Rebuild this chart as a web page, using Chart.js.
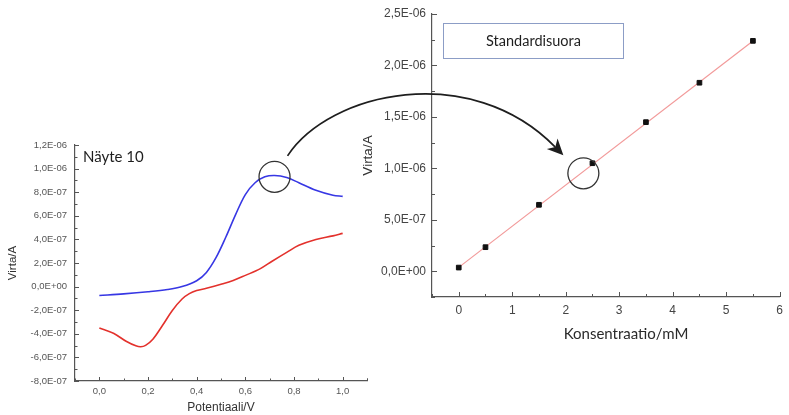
<!DOCTYPE html>
<html>
<head>
<meta charset="utf-8">
<script src="https://cdn.jsdelivr.net/npm/chart.js@4/dist/chart.umd.min.js"></script>
<style>
  html, body { margin: 0; padding: 0; background: #fff; }
  body { width: 789px; height: 415px; position: relative; overflow: hidden; }
  canvas { position: absolute; top: 0; }
  #cvA { left: 0; }
  #cvB { left: 340px; }
  #overlay { left: 0; pointer-events: none; }
  .txt { position: absolute; white-space: nowrap; color: #1e1e1e; font-family: Lato, "Open Sans", sans-serif; }
  #sample { left: 83px; top: 147px; font-size: 15px; line-height: 18px; }
  #legendBox { left: 443px; top: 23px; width: 179px; height: 34px; border: 1.5px solid #8c9dc6;
               font-size: 14.5px; line-height: 34px; text-align: center; }
  #concTitle { left: 556px; top: 324px; width: 140px; text-align: center; font-size: 15px; line-height: 18px; color: #2a2a2a; }
</style>
</head>
<body>
<canvas id="cvA" width="380" height="415"></canvas>
<canvas id="cvB" width="449" height="415"></canvas>
<canvas id="overlay" width="789" height="415"></canvas>
<div class="txt" id="sample">Näyte 10</div>
<div class="txt" id="legendBox">Standardisuora</div>
<div class="txt" id="concTitle">Konsentraatio/mM</div>

<script>
// ---- Voltammogram (Näyte 10): potential / V vs current / A ----
const blueX = [0.00, 0.10, 0.20, 0.28, 0.34, 0.40, 0.44, 0.48, 0.52, 0.56, 0.60, 0.64, 0.68, 0.72, 0.77, 0.82, 0.89, 0.96, 1.00];
const blueY = [-7.6e-8, -6.2e-8, -4.4e-8, -2.5e-8, 0.0, 5.0e-8, 1.2e-7, 2.47e-7, 4.2e-7, 6.1e-7, 7.8e-7, 8.8e-7, 9.3e-7, 9.42e-7, 9.25e-7, 8.8e-7, 8.16e-7, 7.74e-7, 7.65e-7];
const redX = [0.00, 0.06, 0.11, 0.15, 0.17, 0.19, 0.22, 0.26, 0.30, 0.34, 0.37, 0.40, 0.44, 0.50, 0.55, 0.60, 0.66, 0.71, 0.77, 0.82, 0.89, 0.96, 1.00];
const redY = [-3.5e-7, -3.98e-7, -4.63e-7, -5.02e-7, -5.1e-7, -4.98e-7, -4.46e-7, -3.28e-7, -2.02e-7, -1.05e-7, -6.0e-8, -3.4e-8, -1.4e-8, 2.0e-8, 5.2e-8, 9.5e-8, 1.5e-7, 2.15e-7, 2.9e-7, 3.5e-7, 4.0e-7, 4.3e-7, 4.51e-7];

const potTicks = [0, 0.2, 0.4, 0.6, 0.8, 1.0];
const potTickLabels = ['0,0', '0,2', '0,4', '0,6', '0,8', '1,0'];
const cvTicks = [-8e-7, -6e-7, -4e-7, -2e-7, 0, 2e-7, 4e-7, 6e-7, 8e-7, 1e-6, 1.2e-6];
const cvTickLabels = ['-8,0E-07', '-6,0E-07', '-4,0E-07', '-2,0E-07', '0,0E+00', '2,0E-07', '4,0E-07', '6,0E-07', '8,0E-07', '1,0E-06', '1,2E-06'];
const peakMark = { x: 0.72, y: 9.3e-7 };

// ---- Standard curve: concentration / mM vs current / A ----
const concentrations = [0, 0.5, 1.5, 2.5, 3.5, 4.5, 5.5];
const currents = [3.6e-8, 2.34e-7, 6.46e-7, 1.05e-6, 1.449e-6, 1.832e-6, 2.239e-6];
const fitX = [0, 5.5];
const fitY = [3.8e-8, 2.238e-6];

const concTicks = [0, 1, 2, 3, 4, 5, 6];
const concTickLabels = ['0', '1', '2', '3', '4', '5', '6'];
const stdTicks = [0, 5e-7, 1e-6, 1.5e-6, 2e-6, 2.5e-6];
const stdTickLabels = ['0,0E+00', '5,0E-07', '1,0E-06', '1,5E-06', '2,0E-06', '2,5E-06'];
const sampleMark = { x: 2.33, y: 9.52e-7 };

const pts = (xs, ys) => xs.map((x, i) => ({ x, y: ys[i] }));
const stepped = (from, to, step) => { const a = []; for (let i = 0; from + i * step <= to + 1e-12; i++) a.push(+(from + i * step).toPrecision(10)); return a; };

// Small tick marks pointing into the plot area, major and minor
const inwardTicks = {
  id: 'inwardTicks',
  afterDraw(chart, args, opts) {
    const ctx = chart.ctx;
    ctx.save();
    ctx.strokeStyle = opts.color;
    ctx.lineWidth = 1;
    for (const ax of opts.axes) {
      const s = chart.scales[ax.id];
      const sets = [[ax.major, ax.majorLen], [ax.minor, ax.minorLen]];
      for (const [vals, len] of sets) {
        for (const v of vals) {
          const p = Math.round(s.getPixelForValue(v)) + 0.5;
          ctx.beginPath();
          if (s.isHorizontal()) { ctx.moveTo(p, s.top); ctx.lineTo(p, s.top - len); }
          else { ctx.moveTo(s.right, p); ctx.lineTo(s.right + len, p); }
          ctx.stroke();
        }
      }
    }
    ctx.restore();
  }
};

// Highlight circle around a data location
const ringMark = {
  id: 'ringMark',
  afterDatasetsDraw(chart, args, opts) {
    const ctx = chart.ctx;
    const cx = chart.scales.x.getPixelForValue(opts.x);
    const cy = chart.scales.y.getPixelForValue(opts.y);
    ctx.save();
    ctx.strokeStyle = opts.color;
    ctx.lineWidth = 1.3;
    ctx.beginPath();
    ctx.arc(cx, cy, opts.r, 0, Math.PI * 2);
    ctx.stroke();
    ctx.restore();
  }
};

const tickFont = { family: '"Liberation Sans", Arial, sans-serif' };

function fixedTicks(values) {
  return (scale) => { scale.ticks = values.map(v => ({ value: v })); };
}

// Left chart: cyclic voltammogram
const chartA = new Chart(document.getElementById('cvA'), {
  type: 'scatter',
  data: {
    datasets: [
      { data: pts(blueX, blueY), showLine: true, borderColor: '#3737e4', borderWidth: 1.6, pointRadius: 0, tension: 0.35 },
      { data: pts(redX, redY), showLine: true, borderColor: '#e3312c', borderWidth: 1.6, pointRadius: 0, tension: 0.35 }
    ]
  },
  options: {
    responsive: false,
    animation: false,
    layout: { padding: { left: 0, top: 145, right: 13, bottom: 0 } },
    plugins: {
      legend: { display: false },
      tooltip: { enabled: false },
      inwardTicks: {
        color: '#555',
        axes: [
          { id: 'x', major: potTicks, minor: stepped(-0.1, 1.1, 0.2).concat([1.1]), majorLen: 4, minorLen: 2.5 },
          { id: 'y', major: cvTicks, minor: stepped(-7e-7, 1.1e-6, 2e-7), majorLen: 4, minorLen: 2.5 }
        ]
      },
      ringMark: { x: peakMark.x, y: peakMark.y, r: 15.5, color: '#333' }
    },
    scales: {
      x: {
        type: 'linear', min: -0.1, max: 1.1,
        afterBuildTicks: fixedTicks(potTicks),
        afterFit: (s) => { s.height = 34; },
        grid: { display: true, drawOnChartArea: false, drawTicks: false },
        border: { display: true, color: '#555', width: 1.2 },
        ticks: { padding: 5, color: '#555', font: { ...tickFont, size: 9.5 }, callback: (v, i) => potTickLabels[i] },
        title: { display: true, text: 'Potentiaali/V', color: '#333', font: { ...tickFont, size: 12 }, padding: { top: 0, bottom: 0 } }
      },
      y: {
        type: 'linear', min: -8e-7, max: 1.2e-6,
        afterBuildTicks: fixedTicks(cvTicks),
        afterFit: (s) => { s.width = 75; },
        grid: { display: true, drawOnChartArea: false, drawTicks: false },
        border: { display: true, color: '#555', width: 1.2 },
        ticks: { padding: 8, color: '#555', font: { ...tickFont, size: 9.5 }, callback: (v, i) => cvTickLabels[i] },
        title: { display: true, text: 'Virta/A', color: '#333', font: { ...tickFont, size: 11.5 }, padding: { top: 6, bottom: 0 } }
      }
    }
  },
  plugins: [inwardTicks, ringMark]
});

// Right chart: standard curve with linear fit (squares drawn above the line)
const chartB = new Chart(document.getElementById('cvB'), {
  type: 'scatter',
  data: {
    datasets: [
      { data: pts(concentrations, currents), order: 0, pointStyle: 'rect', pointRadius: 3.3, backgroundColor: '#111', borderColor: '#111', borderWidth: 1 },
      { data: pts(fitX, fitY), order: 1, showLine: true, borderColor: '#f29a9a', borderWidth: 1.2, pointRadius: 0 }
    ]
  },
  options: {
    responsive: false,
    animation: false,
    layout: { padding: { left: 0, top: 14, right: 5, bottom: 88 } },
    plugins: {
      legend: { display: false },
      tooltip: { enabled: false },
      inwardTicks: {
        color: '#555',
        axes: [
          { id: 'x', major: concTicks, minor: stepped(-0.5, 5.5, 1), majorLen: 5, minorLen: 3 },
          { id: 'y', major: stdTicks, minor: stepped(-2.5e-7, 2.25e-6, 5e-7), majorLen: 5, minorLen: 3 }
        ]
      },
      ringMark: { x: sampleMark.x, y: sampleMark.y, r: 15.5, color: '#333' }
    },
    scales: {
      x: {
        type: 'linear', min: -0.5, max: 6,
        afterBuildTicks: fixedTicks(concTicks),
        afterFit: (s) => { s.height = 30; },
        grid: { display: true, drawOnChartArea: false, drawTicks: false },
        border: { display: true, color: '#555', width: 1.2 },
        ticks: { padding: 6, color: '#444', font: { ...tickFont, size: 12 }, callback: (v, i) => concTickLabels[i] }
      },
      y: {
        type: 'linear', min: -2.5e-7, max: 2.5e-6,
        afterBuildTicks: fixedTicks(stdTicks),
        afterFit: (s) => { s.width = 92; },
        grid: { display: true, drawOnChartArea: false, drawTicks: false },
        border: { display: true, color: '#555', width: 1.2 },
        ticks: { padding: 6, color: '#444', font: { ...tickFont, size: 12 }, callback: (v, i) => stdTickLabels[i] },
        title: { display: true, text: 'Virta/A', color: '#333', font: { ...tickFont, size: 13.5 }, padding: { top: 20, bottom: 0 } }
      }
    }
  },
  plugins: [inwardTicks, ringMark]
});

// Curved arrow linking the sample peak to its place on the standard curve
(function drawArrow() {
  const ctx = document.getElementById('overlay').getContext('2d');
  const offB = 340;
  const a = { x: chartA.scales.x.getPixelForValue(peakMark.x), y: chartA.scales.y.getPixelForValue(peakMark.y) };
  const b = { x: offB + chartB.scales.x.getPixelForValue(sampleMark.x), y: chartB.scales.y.getPixelForValue(sampleMark.y) };
  const p0 = { x: a.x + 13, y: a.y - 21 };
  const p3 = { x: b.x - 20, y: b.y - 18 };
  const p1 = { x: p0.x + 42, y: p0.y - 64 };
  const p2 = { x: p3.x - 93, y: p3.y - 95 };
  ctx.strokeStyle = '#1e1e1e';
  ctx.fillStyle = '#1e1e1e';
  ctx.lineWidth = 1.7;
  const ang = Math.atan2(p3.y - p2.y, p3.x - p2.x);
  const len = 16, half = 7.5;
  const back = { x: p3.x - Math.cos(ang) * len * 0.72, y: p3.y - Math.sin(ang) * len * 0.72 };
  ctx.beginPath();
  ctx.moveTo(p0.x, p0.y);
  ctx.bezierCurveTo(p1.x, p1.y, p2.x, p2.y, back.x, back.y);
  ctx.stroke();
  const bx = p3.x - Math.cos(ang) * len, by = p3.y - Math.sin(ang) * len;
  const nx = -Math.sin(ang), ny = Math.cos(ang);
  ctx.beginPath();
  ctx.moveTo(p3.x, p3.y);
  ctx.lineTo(bx + nx * half, by + ny * half);
  ctx.lineTo(back.x, back.y);
  ctx.lineTo(bx - nx * half, by - ny * half);
  ctx.closePath();
  ctx.fill();
})();
</script>
</body>
</html>
